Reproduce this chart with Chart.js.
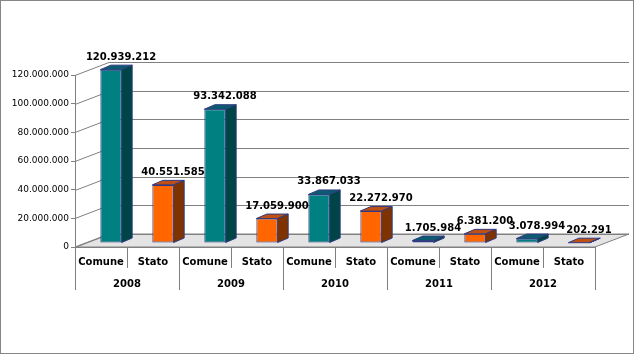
<!DOCTYPE html>
<html>
<head>
<meta charset="utf-8">
<script src="https://cdn.jsdelivr.net/npm/chart.js@4/dist/chart.umd.min.js"></script>
<style>
  body { margin: 0; background: #fff; }
  canvas { display: block; }
</style>
</head>
<body>
<canvas id="chart" width="634" height="354"></canvas>
<script>
const years = ['2008', '2009', '2010', '2011', '2012'];
const series = ['Comune', 'Stato'];
const comune = [120939212, 93342088, 33867033, 1705984, 3078994];
const stato = [40551585, 17059900, 22272970, 6381200, 202291];
const yMax = 120000000;
const yStep = 20000000;

// colours per series: front, top, side
const front = ['#008080', '#ff6600'];
const topFace = ['#0b5c6e', '#c04f14'];
const sideFace = ['#004545', '#7f3300'];

const labels = [];
const values = [];
const colors = [];
years.forEach((y, i) => {
    labels.push(y + ' ' + series[0]);
    values.push(comune[i]);
    colors.push(front[0]);
    labels.push(y + ' ' + series[1]);
    values.push(stato[i]);
    colors.push(front[1]);
});

function fmt(v) {
    return String(v).replace(/\B(?=(\d{3})+(?!\d))/g, '.');
}

const wall = { dx: 34, dy: -13 };   // depth of the floor / back wall
const shift = { dx: 10, dy: -4 };   // bars sit inside the floor
const bar = { dx: 10.5, dy: -4.5 }; // depth of one bar
const grey = '#808080';

const threeD = {
    id: 'threeD',
    beforeDatasetsDraw(chart) {
        const { ctx, chartArea: a, scales: { y } } = chart;
        const y0 = y.getPixelForValue(0);
        ctx.save();
        // floor
        ctx.beginPath();
        ctx.moveTo(a.left, y0);
        ctx.lineTo(a.right, y0);
        ctx.lineTo(a.right + wall.dx, y0 + wall.dy);
        ctx.lineTo(a.left + wall.dx, y0 + wall.dy);
        ctx.closePath();
        ctx.fillStyle = '#e4e4e4';
        ctx.fill();
        ctx.strokeStyle = grey;
        ctx.lineWidth = 1;
        ctx.stroke();
        // side wall + back wall grid
        y.ticks.forEach(t => {
            const yy = Math.round(y.getPixelForValue(t.value)) + 0.5;
            ctx.beginPath();
            ctx.moveTo(a.left, yy);
            ctx.lineTo(a.left + wall.dx, yy + wall.dy);
            ctx.lineTo(a.right + wall.dx, yy + wall.dy);
            ctx.stroke();
        });
        ctx.restore();
        ctx.save();
        ctx.translate(shift.dx, shift.dy);
    },
    afterDatasetsDraw(chart) {
        const { ctx } = chart;
        ctx.restore();
        const meta = chart.getDatasetMeta(0);
        ctx.save();
        ctx.strokeStyle = '#2e3a82';
        ctx.lineWidth = 1;
        meta.data.forEach((el, i) => {
            const s = i % 2;
            const l = el.x - el.width / 2 + shift.dx;
            const r = el.x + el.width / 2 + shift.dx;
            const t = el.y + shift.dy;
            const b = el.base + shift.dy;
            ctx.beginPath();
            ctx.moveTo(l, t);
            ctx.lineTo(r, t);
            ctx.lineTo(r + bar.dx, t + bar.dy);
            ctx.lineTo(l + bar.dx, t + bar.dy);
            ctx.closePath();
            ctx.fillStyle = topFace[s];
            ctx.fill();
            ctx.stroke();
            ctx.beginPath();
            ctx.moveTo(r, t);
            ctx.lineTo(r + bar.dx, t + bar.dy);
            ctx.lineTo(r + bar.dx, b + bar.dy);
            ctx.lineTo(r, b);
            ctx.closePath();
            ctx.fillStyle = sideFace[s];
            ctx.fill();
            ctx.stroke();
        });
        // value labels
        ctx.fillStyle = '#000';
        ctx.font = 'bold 10px "DejaVu Sans"';
        ctx.textAlign = 'center';
        ctx.textBaseline = 'alphabetic';
        meta.data.forEach((el, i) => {
            ctx.fillText(fmt(values[i]), el.x + 20, el.y + shift.dy - 10);
        });
        ctx.restore();
    },
    afterDraw(chart) {
        const { ctx, chartArea: a, scales: { x } } = chart;
        const w = (a.right - a.left) / labels.length;
        ctx.save();
        ctx.strokeStyle = grey;
        ctx.lineWidth = 1;
        for (let i = 0; i <= labels.length; i++) {
            const xx = Math.round(a.left + i * w) + 0.5;
            ctx.beginPath();
            ctx.moveTo(xx, a.bottom);
            ctx.lineTo(xx, i % 2 === 0 ? a.bottom + 43 : a.bottom + 21);
            ctx.stroke();
        }
        ctx.fillStyle = '#000';
        ctx.font = 'bold 10px "DejaVu Sans"';
        ctx.textAlign = 'center';
        labels.forEach((lab, i) => {
            ctx.fillText(series[i % 2], x.getPixelForValue(i), a.bottom + 18);
        });
        years.forEach((yr, i) => {
            ctx.fillText(yr, a.left + (i * 2 + 1) * w, a.bottom + 40);
        });
        // outer frame
        ctx.strokeStyle = '#868686';
        ctx.strokeRect(0.5, 0.5, chart.width - 1, chart.height - 1);
        ctx.restore();
    }
};

new Chart('chart', {
    type: 'bar',
    data: {
        labels: labels,
        datasets: [{
            data: values,
            backgroundColor: colors,
            borderColor: '#2e3a82',
            borderWidth: 1,
            borderSkipped: false,
            categoryPercentage: 1,
            barPercentage: 0.41,
            clip: false
        }]
    },
    options: {
        responsive: false,
        animation: false,
        devicePixelRatio: 1,
        layout: { padding: { left: 0, right: 39, top: 75, bottom: 0 } },
        plugins: {
            legend: { display: false },
            tooltip: { enabled: false }
        },
        scales: {
            x: {
                ticks: { display: false },
                grid: { display: false },
                border: { display: true, color: grey },
                afterFit(scale) { scale.height = 107; }
            },
            y: {
                min: 0,
                max: yMax,
                ticks: {
                    stepSize: yStep,
                    padding: 2,
                    color: '#000',
                    font: { family: 'DejaVu Sans', size: 9 },
                    callback: v => fmt(v)
                },
                grid: { drawOnChartArea: false, tickLength: 4, color: grey },
                border: { display: true, color: grey },
                afterFit(scale) { scale.width = 75; }
            }
        }
    },
    plugins: [threeD]
});
</script>
</body>
</html>
